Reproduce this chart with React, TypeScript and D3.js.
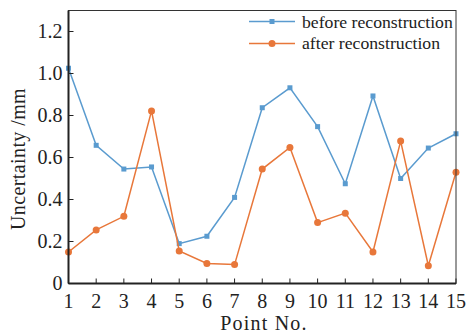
import React from "react";
import * as d3 from "d3";

const points = [1, 2, 3, 4, 5, 6, 7, 8, 9, 10, 11, 12, 13, 14, 15];
const before = [1.025, 0.658, 0.545, 0.555, 0.19, 0.225, 0.41, 0.837, 0.932, 0.747, 0.475, 0.893, 0.5, 0.645, 0.713];
const after = [0.15, 0.255, 0.32, 0.822, 0.155, 0.095, 0.09, 0.545, 0.648, 0.29, 0.335, 0.15, 0.678, 0.085, 0.53];
const yTicks = [0, 0.2, 0.4, 0.6, 0.8, 1.0, 1.2];
const yTickLabels = ["0", "0.2", "0.4", "0.6", "0.8", "1.0", "1.2"];

const W = 467, H = 333;
const L = 68.5, R = 456, T = 10.5, B = 283.5;
const BLUE = "#5a9bcf";
const ORANGE = "#e8773a";
const FONT = "'Liberation Serif', 'DejaVu Serif', serif";

export default function App() {
  const x = d3.scaleLinear().domain([1, 15]).range([L, R]);
  const y = d3.scaleLinear().domain([0, 1.3]).range([B, T]);
  const line = d3.line<number>().x((_, i) => x(points[i])).y((d) => y(d));
  return (
    <svg width={W} height={H} style={{ position: "absolute", left: 0, top: 0 }} fontFamily={FONT}>
      <rect x={0} y={0} width={W} height={H} fill="#fff" />
      <path d={line(before) || ""} fill="none" stroke={BLUE} strokeWidth={1.5} />
      {before.map((v, i) => (
        <rect key={"b" + i} x={x(points[i]) - 2.5} y={y(v) - 2.5} width={5} height={5} fill={BLUE} />
      ))}
      <path d={line(after) || ""} fill="none" stroke={ORANGE} strokeWidth={1.5} />
      {after.map((v, i) => (
        <circle key={"a" + i} cx={x(points[i])} cy={y(v)} r={3.5} fill={ORANGE} />
      ))}
      <rect x={L} y={T} width={R - L} height={B - T} fill="none" stroke="#333" strokeWidth={1} />
      <line x1={L} y1={T} x2={L} y2={B} stroke="#222" strokeWidth={2} />
      <line x1={L} y1={B} x2={R} y2={B} stroke="#222" strokeWidth={2} />
      {points.map((p) => (
        <g key={"x" + p}>
          <line x1={x(p)} x2={x(p)} y1={B} y2={B - 5} stroke="#222" strokeWidth={1} />
          <text x={x(p)} y={308} textAnchor="middle" fontSize={20} fill="#222">{p}</text>
        </g>
      ))}
      {yTicks.map((t, i) => (
        <g key={"y" + t}>
          <line x1={L} x2={L + 5} y1={y(t)} y2={y(t)} stroke="#222" strokeWidth={1} />
          <text x={L - 6} y={y(t) + 6.5} textAnchor="end" fontSize={20} fill="#222">{yTickLabels[i]}</text>
        </g>
      ))}
      <text x={264} y={330} textAnchor="middle" fontSize={20} letterSpacing={1.2} fill="#222">Point No.</text>
      <text transform={`translate(25,159) rotate(-90)`} textAnchor="middle" fontSize={20} letterSpacing={0.4} fill="#222">Uncertainty /mm</text>
      <line x1={249} x2={295} y1={21.5} y2={21.5} stroke={BLUE} strokeWidth={1.5} />
      <rect x={269.5} y={19} width={5} height={5} fill={BLUE} />
      <text x={302} y={28} fontSize={17.7} fill="#222">before reconstruction</text>
      <line x1={249} x2={295} y1={43.5} y2={43.5} stroke={ORANGE} strokeWidth={1.5} />
      <circle cx={272} cy={43.5} r={3.5} fill={ORANGE} />
      <text x={302} y={49} fontSize={17.7} fill="#222">after reconstruction</text>
    </svg>
  );
}
